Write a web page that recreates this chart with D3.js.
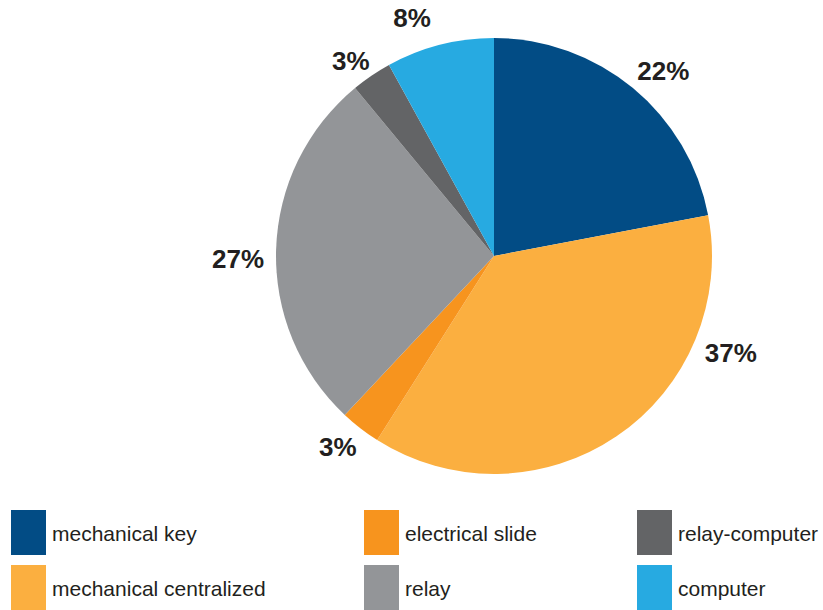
<!DOCTYPE html>
<html>
<head>
<meta charset="utf-8">
<script src="https://cdn.jsdelivr.net/npm/d3@7"></script>
<style>
  html, body { margin: 0; padding: 0; background: #fff; }
  svg { display: block; font-family: "Liberation Sans", Arial, sans-serif; }
</style>
</head>
<body>
<svg id="chart" width="823" height="610"></svg>
<script>
// Share of interlocking types (percent), clockwise from 12 o'clock
const categories = ["mechanical key", "mechanical centralized", "electrical slide", "relay", "relay-computer", "computer"];
const values = [22, 37, 3, 27, 3, 8];
const colors = ["#024c85", "#fbaf40", "#f7941e", "#939598", "#636466", "#27aae1"];
const labels = ["22%", "37%", "3%", "27%", "3%", "8%"];

// Where each percentage label sits: angle (degrees clockwise from 12 o'clock) and distance from the centre
const labelAngles = [42.4, 112.3, 219.2, 269.3, 323.7, 341];
const labelRadii = [251, 256, 247, 256, 242, 252];

// Legend order (two rows, three columns)
const legendOrder = ["mechanical key", "electrical slide", "relay-computer",
                     "mechanical centralized", "relay", "computer"];

const svg = d3.select("#chart");
const cx = 494, cy = 256, r = 218;

const data = categories.map((c, i) => ({
  name: c, value: values[i], label: labels[i],
  la: labelAngles[i] * Math.PI / 180, lr: labelRadii[i]
}));
const color = d3.scaleOrdinal().domain(categories).range(colors);

const pie = d3.pie().value(d => d.value).sort(null);
const arc = d3.arc().innerRadius(0).outerRadius(r);

const g = svg.append("g").attr("transform", `translate(${cx},${cy})`);
const arcs = pie(data);

g.selectAll("path.slice")
  .data(arcs)
  .join("path")
  .attr("class", "slice")
  .attr("d", arc)
  .attr("fill", d => color(d.data.name));

// Percentage labels outside the rim
g.selectAll("text.pct")
  .data(arcs)
  .join("text")
  .attr("class", "pct")
  .attr("x", d => d.data.lr * Math.sin(d.data.la))
  .attr("y", d => -d.data.lr * Math.cos(d.data.la) + 9)
  .attr("text-anchor", "middle")
  .attr("font-size", 26)
  .attr("font-weight", "bold")
  .attr("fill", "#231f20")
  .text(d => d.data.label);

// Legend
const colX = [11, 364, 637];
const rowY = [510, 565];
const legend = svg.append("g");
legendOrder.forEach((name, i) => {
  const col = i % 3, row = Math.floor(i / 3);
  const item = legend.append("g").attr("transform", `translate(${colX[col]},${rowY[row]})`);
  item.append("rect")
    .attr("width", 35).attr("height", 45)
    .attr("fill", color(name));
  item.append("text")
    .attr("x", 41).attr("y", 31)
    .attr("font-size", 21)
    .attr("fill", "#231f20")
    .text(name);
});
</script>
</body>
</html>
